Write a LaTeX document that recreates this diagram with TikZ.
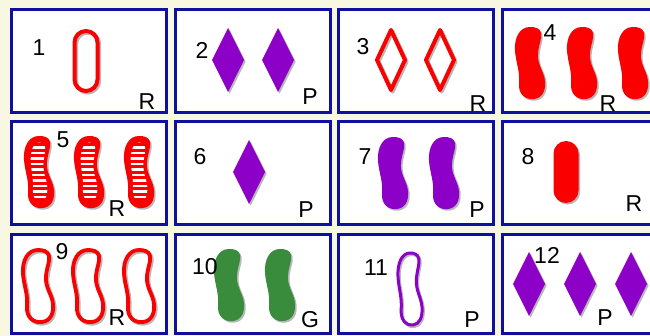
\documentclass[tikz,border=0pt]{standalone}
\usepackage{fontspec}
\setmainfont{Liberation Sans}
\definecolor{bg}{RGB}{248,248,226}
\definecolor{cardblue}{RGB}{16,16,160}
\definecolor{setred}{RGB}{250,0,0}
\definecolor{setpurple}{RGB}{140,0,200}
\definecolor{setgreen}{RGB}{56,140,60}
\newcommand{\shp}[4]{\pic[#1, shift={(1.6,1.6)}, opacity=0.28] at #3 {#4};\pic[#2] at #3 {#4};}
\tikzset{
  card/.style={draw=cardblue, line width=3pt, fill=white},
  lab/.style={font=\fontsize{23}{23}\selectfont, inner sep=0pt, text=black},
  squig/.pic={
    \path[pic actions, line join=round] (0,-36) .. controls (-10,-36) and (-16,-26) .. (-15,-12)
      .. controls (-14,0) and (-10,8) .. (-11,20)
      .. controls (-12,32) and (-4,37) .. (4,36)
      .. controls (12,35) and (16,28) .. (15,18)
      .. controls (14,8) and (7,2) .. (8,-10)
      .. controls (9,-20) and (12,-24) .. (11,-30)
      .. controls (10,-35) and (5,-36) .. (0,-36) -- cycle;
  },
  stripesquig/.pic={
    \fill[setred] (0,-36) .. controls (-10,-36) and (-16,-26) .. (-15,-12)
      .. controls (-14,0) and (-10,8) .. (-11,20)
      .. controls (-12,32) and (-4,37) .. (4,36)
      .. controls (12,35) and (16,28) .. (15,18)
      .. controls (14,8) and (7,2) .. (8,-10)
      .. controls (9,-20) and (12,-24) .. (11,-30)
      .. controls (10,-35) and (5,-36) .. (0,-36) -- cycle;
    \begin{scope}
      \clip[xscale=0.55, yscale=0.82] (0,-36) .. controls (-10,-36) and (-16,-26) .. (-15,-12)
      .. controls (-14,0) and (-10,8) .. (-11,20)
      .. controls (-12,32) and (-4,37) .. (4,36)
      .. controls (12,35) and (16,28) .. (15,18)
      .. controls (14,8) and (7,2) .. (8,-10)
      .. controls (9,-20) and (12,-24) .. (11,-30)
      .. controls (10,-35) and (5,-36) .. (0,-36) -- cycle;
      \foreach \yy in {-30,-24.5,...,30} {\draw[white, line width=2.4pt] (-20,\yy) -- (20,\yy);}
    \end{scope}
  },
  diam/.pic={\path[pic actions, line join=round] (0,-32) -- (16,0) -- (0,32) -- (-16,0) -- cycle;},
  odiam/.pic={\path[pic actions, line join=round] (0,-30) -- (14,0) -- (0,30) -- (-14,0) -- cycle;},
  capsule/.pic={\path[pic actions] (-11.5,-30) [rounded corners=11.5pt] rectangle (11.5,30);},
  fcapsule/.pic={\path[pic actions] (-12.5,-31) [rounded corners=12.5pt] rectangle (12.5,31);},
}
\begin{document}
\begin{tikzpicture}[x=1pt, y=-1pt]
\useasboundingbox (0,0) rectangle (650,336);
\clip (0,0) rectangle (650,336);
\fill[bg] (0,0) rectangle (650,336);
% cards
\foreach \cx in {11,175,338,502} {
  \foreach \cy/\cyb in {10/113,122/225,235/333} {
    \draw[card] (\cx,\cy) rectangle ({\cx+155},\cyb);
  }
}
% card 1
\shp{draw=black, line width=4pt}{draw=setred, line width=4pt}{(86,61)}{capsule}
% card 2
\shp{fill=black}{fill=setpurple}{(228,60)}{diam}
\shp{fill=black}{fill=setpurple}{(278,60)}{diam}
% card 3
\shp{draw=black, line width=4pt}{draw=setred, line width=4pt}{(391,60)}{odiam}
\shp{draw=black, line width=4pt}{draw=setred, line width=4pt}{(440,60)}{odiam}
% card 4
\shp{fill=black}{fill=setred}{(530,63)}{squig}
\shp{fill=black}{fill=setred}{(582,63)}{squig}
\shp{fill=black}{fill=setred}{(633,63)}{squig}
% card 5
\pic[fill=black, shift={(1.6,1.6)}, opacity=0.28] at (39,172) {squig};
\pic at (39,172) {stripesquig};
\pic[fill=black, shift={(1.6,1.6)}, opacity=0.28] at (89,172) {squig};
\pic at (89,172) {stripesquig};
\pic[fill=black, shift={(1.6,1.6)}, opacity=0.28] at (139,172) {squig};
\pic at (139,172) {stripesquig};
% card 6
\shp{fill=black}{fill=setpurple}{(249,172)}{diam}
% card 7
\shp{fill=black}{fill=setpurple}{(393,173)}{squig}
\shp{fill=black}{fill=setpurple}{(444,173)}{squig}
% card 8
\shp{fill=black}{fill=setred}{(566,172)}{fcapsule}
% card 9
\shp{draw=black, line width=3.8pt}{draw=setred, line width=3.8pt}{(38,286)}{squig}
\shp{draw=black, line width=3.8pt}{draw=setred, line width=3.8pt}{(88,286)}{squig}
\shp{draw=black, line width=3.8pt}{draw=setred, line width=3.8pt}{(139,286)}{squig}
% card 10
\shp{fill=black}{fill=setgreen}{(229,285)}{squig}
\shp{fill=black}{fill=setgreen}{(280,285)}{squig}
% card 11
\shp{draw=black, line width=3pt, xscale=0.8}{draw=setpurple, line width=3pt, xscale=0.8}{(410,289)}{squig}
% card 12
\shp{fill=black}{fill=setpurple}{(529,284)}{diam}
\shp{fill=black}{fill=setpurple}{(580,284)}{diam}
\shp{fill=black}{fill=setpurple}{(631,284)}{diam}
% labels
\node[lab] (n1) at (39,48) {1};
\node[lab] (l1) at (147,102) {R};
\node[lab] (n2) at (202,50) {2};
\node[lab] (l2) at (310,97) {P};
\node[lab] (n3) at (363,47) {3};
\node[lab] (l3) at (478,104) {R};
\node[lab] (n4) at (550,33) {4};
\node[lab] (l4) at (608,104) {R};
\node[lab] (n5) at (63,140) {5};
\node[lab] (l5) at (117,209) {R};
\node[lab] (n6) at (200,157) {6};
\node[lab] (l6) at (306,210) {P};
\node[lab] (n7) at (365,157) {7};
\node[lab] (l7) at (477,210) {P};
\node[lab] (n8) at (528,157) {8};
\node[lab] (l8) at (634,204) {R};
\node[lab] (n9) at (62,252) {9};
\node[lab] (l9) at (117,318) {R};
\node[lab] (n10) at (205,267) {10};
\node[lab] (l10) at (310,320) {G};
\node[lab] (n11) at (376,268) {11};
\node[lab] (l11) at (472,320) {P};
\node[lab] (n12) at (547,255) {12};
\node[lab] (l12) at (605,318) {P};
\end{tikzpicture}
\end{document}
